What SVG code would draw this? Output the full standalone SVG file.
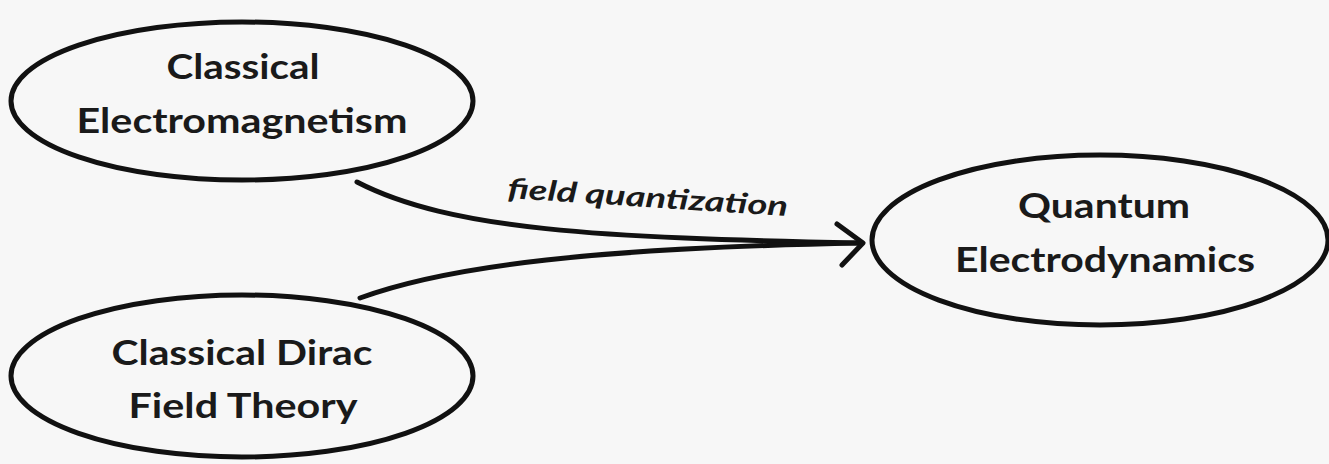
<svg xmlns="http://www.w3.org/2000/svg" width="1329" height="464" viewBox="0 0 1329 464">
<style>
.bg{fill:#f7f7f7}
.node ellipse{fill:none;stroke:#111;stroke-width:5}
.lbl{font-family:Lato,"Open Sans","Liberation Sans",sans-serif;font-weight:bold;font-size:34px;fill:#1a1a1a;text-anchor:middle}
.edge{fill:none;stroke:#111;stroke-width:5;stroke-linecap:round;stroke-linejoin:round}
.elbl{font-family:Lato,"Open Sans","Liberation Sans",sans-serif;font-weight:bold;font-style:italic;font-size:28px;fill:#1a1a1a}
</style>
<rect class="bg" x="0" y="0" width="1329" height="464"/>
<g id="em" class="node">
<ellipse cx="242" cy="101" rx="231" ry="79"/>
<text class="lbl" x="243" y="79" textLength="153" lengthAdjust="spacingAndGlyphs">Classical</text>
<text class="lbl" x="242" y="133" textLength="331" lengthAdjust="spacingAndGlyphs">Electromagnetism</text>
</g>
<g id="dirac" class="node">
<ellipse cx="242" cy="376" rx="231" ry="81"/>
<text class="lbl" x="242" y="365" textLength="261" lengthAdjust="spacingAndGlyphs">Classical Dirac</text>
<text class="lbl" x="243" y="418" textLength="229" lengthAdjust="spacingAndGlyphs">Field Theory</text>
</g>
<g id="qed" class="node">
<ellipse cx="1100" cy="240" rx="228" ry="85"/>
<text class="lbl" x="1104" y="218" textLength="172" lengthAdjust="spacingAndGlyphs">Quantum</text>
<text class="lbl" x="1105" y="272" textLength="300" lengthAdjust="spacingAndGlyphs">Electrodynamics</text>
</g>
<g id="connectors">
<path class="edge" d="M357,182 C450,230 600,238 860,243"/>
<path class="edge" d="M360,298 C450,265 600,248 860,243"/>
<polyline class="edge" points="837,224 863,243 842,265"/>
<text class="elbl" x="507" y="198" transform="rotate(3.7 507 198)" textLength="281" lengthAdjust="spacingAndGlyphs">field quantization</text>
</g>
</svg>
